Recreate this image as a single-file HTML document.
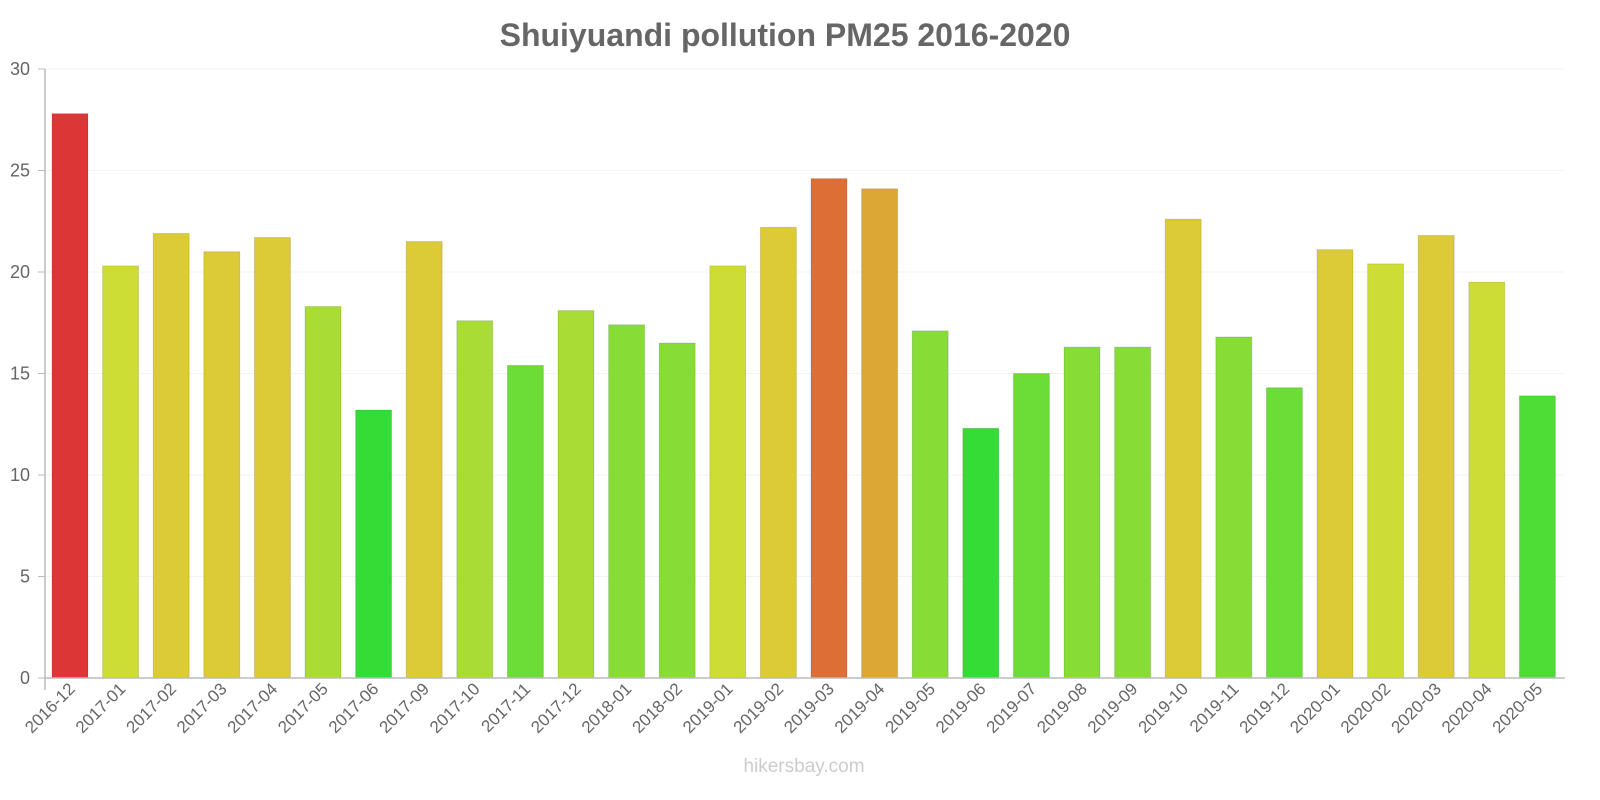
<!DOCTYPE html>
<html><head><meta charset="utf-8"><style>body{margin:0;background:#fff}svg{display:block}text{font-family:"Liberation Sans",sans-serif}</style></head>
<body>
<svg id="c" width="1600" height="800" xmlns="http://www.w3.org/2000/svg"></svg>
<script>
const vals=[27.8,20.3,21.9,21,21.7,18.3,13.2,21.5,17.6,15.4,18.1,17.4,16.5,20.3,22.2,24.6,24.1,17.1,12.3,15,16.3,16.3,22.6,16.8,14.3,21.1,20.4,21.8,19.5,13.9];
const labs=["2016-12","2017-01","2017-02","2017-03","2017-04","2017-05","2017-06","2017-09","2017-10","2017-11","2017-12","2018-01","2018-02","2019-01","2019-02","2019-03","2019-04","2019-05","2019-06","2019-07","2019-08","2019-09","2019-10","2019-11","2019-12","2020-01","2020-02","2020-03","2020-04","2020-05"];
function col(v){
 if(v>=27)return"#dd3636";if(v>=24.5)return"#dd6f36";if(v>=23.5)return"#dda736";
 if(v>=20.9)return"#dcca36";if(v>=19)return"#cedc36";if(v>=17.5)return"#aadc36";
 if(v>=16)return"#88dc36";if(v>=14)return"#6cdc36";if(v>=13.5)return"#4edc36";return"#36dc36";}
const y0=678,sc=20.3;let s='';
s+='<text x="785" y="46" text-anchor="middle" font-size="32" font-weight="bold" fill="#666">Shuiyuandi pollution PM25 2016-2020</text>';
for(let t=0;t<=30;t+=5){const y=y0-t*sc;
 if(t>0)s+=`<line x1="45" x2="1565" y1="${y}" y2="${y}" stroke="#f3f3f3"/>`;
 s+=`<text x="30" y="${y+6}" text-anchor="end" font-size="18" fill="#666">${t}</text>`;
 s+=`<line x1="38" x2="45" y1="${y}" y2="${y}" stroke="#bbb"/>`;}
vals.forEach((v,i)=>{const cx=70+i*50.6,h=v*sc,c=col(v);
 s+=`<rect x="${cx-18}" y="${y0-h}" width="36" height="${h}" fill="${c}" stroke="rgba(0,0,0,0.12)" stroke-width="1"/>`;
 s+=`<text transform="translate(${cx+6},690) rotate(-45)" text-anchor="end" font-size="17" fill="#666">${labs[i]}</text>`;});
s+='<line x1="45" x2="1565" y1="678" y2="678" stroke="#bbb" stroke-width="1.5"/>';
s+='<line x1="45" x2="45" y1="69" y2="690" stroke="#bbb" stroke-width="1.5"/>';
s+='<text x="804" y="772" text-anchor="middle" font-size="19" fill="#ccc">hikersbay.com</text>';
document.getElementById('c').innerHTML=s;
</script>
</body></html>
